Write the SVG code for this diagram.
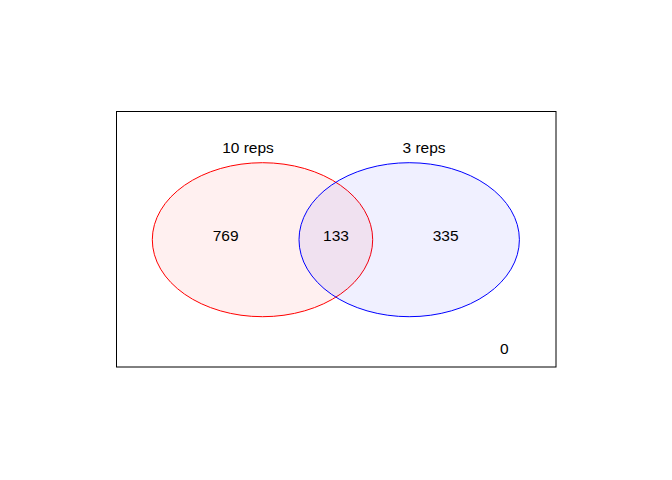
<svg xmlns="http://www.w3.org/2000/svg" width="672" height="480" viewBox="0 0 672 480">
<style>
text{font-family:"Liberation Sans",Arial,sans-serif;font-size:15.5px;fill:#000;text-anchor:middle}
</style>
<rect width="672" height="480" fill="#fff"/>
<rect x="116.5" y="111.5" width="439.5" height="255.5" fill="none" stroke="#000" stroke-width="1"/>
<g id="set-10reps">
<ellipse cx="262.5" cy="239.7" rx="110.2" ry="77" fill="#ff0000" fill-opacity="0.06" stroke="#ff0000" stroke-width="1"/>
</g>
<g id="set-3reps">
<ellipse cx="409.2" cy="239.7" rx="110.2" ry="77" fill="#0000ff" fill-opacity="0.06" stroke="#0000ff" stroke-width="1"/>
</g>
<g id="labels">
<text x="248" y="152.7">10 reps</text>
<text x="424" y="152.7">3 reps</text>
<text x="225.7" y="241.3">769</text>
<text x="336" y="241.3">133</text>
<text x="445.7" y="241.3">335</text>
<text x="504.3" y="354">0</text>
</g>
</svg>
